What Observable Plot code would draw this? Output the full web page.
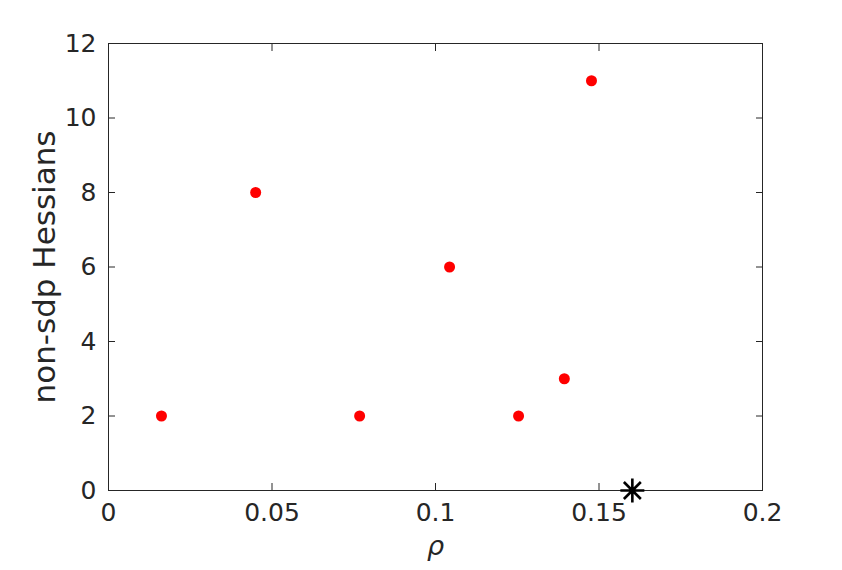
<!DOCTYPE html>
<html>
<head>
<meta charset="utf-8">
<script src="https://cdn.jsdelivr.net/npm/d3@7"></script>
<script src="https://cdn.jsdelivr.net/npm/@observablehq/plot@0.6"></script>
<style>
  html, body { margin: 0; padding: 0; background: #fff; }
  svg { display: block; }
</style>
</head>
<body>
<div id="chart"></div>
<script>
const rho = [0.0162, 0.0450, 0.0768, 0.1043, 0.1254, 0.1394, 0.1477];
const hessians = [2, 8, 2, 6, 2, 3, 11];
const starRho = [0.1602];
const starVal = [0];
const xTicks = [0, 0.05, 0.1, 0.15, 0.2];
const xTickLabels = ["0", "0.05", "0.1", "0.15", "0.2"];
const yTicks = [0, 2, 4, 6, 8, 10, 12];
const yTickLabels = ["0", "2", "4", "6", "8", "10", "12"];
const xLabel = "ρ";
const yLabel = "non-sdp Hessians";

const points = rho.map((r, i) => ({rho: r, n: hessians[i]}));
const star = starRho.map((r, i) => ({rho: r, n: starVal[i]}));
const ink = "#262626";
const font = "DejaVu Sans, sans-serif";

// MATLAB-style 8-armed asterisk (plus + cross)
const asterisk8 = {
  draw(context, size) {
    const r = Math.sqrt(size / Math.PI);
    const d = r * Math.SQRT1_2;
    context.moveTo(-r, 0); context.lineTo(r, 0);
    context.moveTo(0, -r); context.lineTo(0, r);
    context.moveTo(-d, -d); context.lineTo(d, d);
    context.moveTo(-d, d); context.lineTo(d, -d);
  }
};

const chart = Plot.plot({
  width: 842,
  height: 570,
  marginLeft: 108,
  marginRight: 80,
  marginTop: 43,
  marginBottom: 80,
  style: {fontFamily: font, fontSize: "25px", color: ink, background: "#fff", overflow: "visible"},
  x: {domain: [0, 0.2]},
  y: {domain: [0, 12]},
  marks: [
    Plot.frame({stroke: ink, strokeWidth: 1}),
    Plot.axisX(xTicks, {anchor: "bottom", tickSize: 0, tickPadding: 13, fontSize: 25, fill: ink,
      tickFormat: (d, i) => xTickLabels[i], label: null}),
    Plot.axisX(xTicks, {anchor: "bottom", tickSize: -7, text: null, stroke: ink, label: null}),
    Plot.axisX(xTicks, {anchor: "top", tickSize: -7, text: null, stroke: ink, label: null}),
    Plot.axisY(yTicks, {anchor: "left", tickSize: 0, tickPadding: 12, fontSize: 25, fill: ink,
      tickFormat: (d, i) => yTickLabels[i], label: null}),
    Plot.axisY(yTicks, {anchor: "left", tickSize: -7, text: null, stroke: ink, label: null}),
    Plot.axisY(yTicks, {anchor: "right", tickSize: -7, text: null, stroke: ink, label: null}),
    Plot.text([yLabel], {frameAnchor: "left", textAnchor: "middle", rotate: -90, dx: -63, fontSize: 31, fill: ink, text: d => d}),
    Plot.text([xLabel], {frameAnchor: "bottom", dy: 64, fontSize: 27, fontStyle: "italic", fill: ink, text: d => d}),
    Plot.dot(points, {x: "rho", y: "n", r: 5.5, fill: "#ff0000", stroke: "none"}),
    Plot.dot(star, {x: "rho", y: "n", symbol: asterisk8, r: 12, stroke: "#000", strokeWidth: 2.6})
  ]
});
document.getElementById("chart").appendChild(chart);
</script>
</body>
</html>
